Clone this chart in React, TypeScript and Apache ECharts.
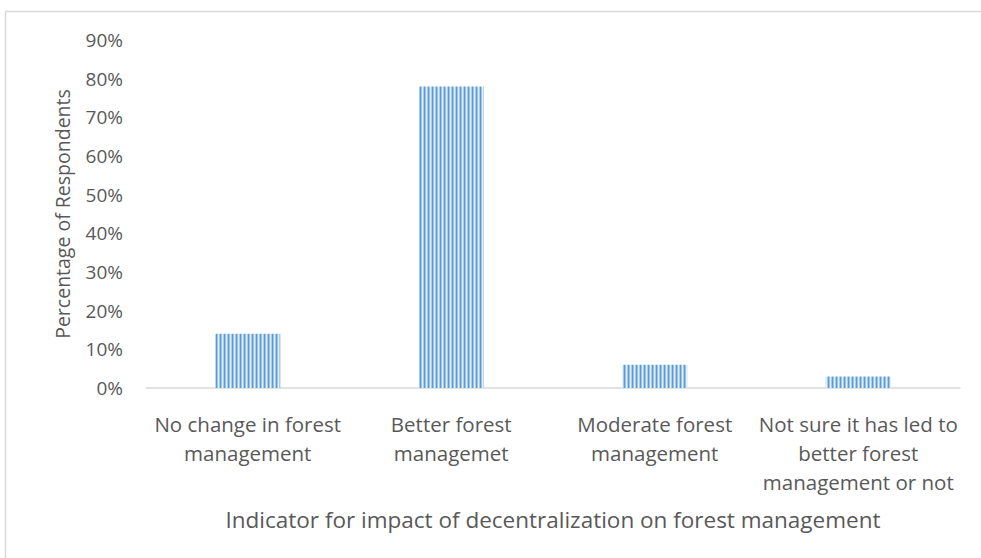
import React, { useEffect, useRef } from "react";
import * as echarts from "echarts";

const categories = [
  "No change in forest\nmanagement",
  "Better forest\nmanagemet",
  "Moderate forest\nmanagement",
  "Not sure it has led to\nbetter forest\nmanagement or not",
];
const values = [14, 78, 6, 3];
const yTicks = [0, 10, 20, 30, 40, 50, 60, 70, 80, 90];
const yTitle = "Percentage of Respondents";
const xTitle = "Indicator for impact of decentralization on forest management";

function makePattern(): HTMLCanvasElement {
  const c = document.createElement("canvas");
  c.width = 4;
  c.height = 4;
  const ctx = c.getContext("2d")!;
  const cols = ["#5B9BD5", "#9DC3E6", "#E3EEF9", "#A9CBEA"];
  cols.forEach((col, i) => {
    ctx.fillStyle = col;
    ctx.fillRect(i, 0, 1, 4);
  });
  return c;
}

export default function App() {
  const ref = useRef<HTMLDivElement>(null);
  useEffect(() => {
    if (!ref.current) return;
    const chart = echarts.init(ref.current, undefined, { renderer: "svg" });
    const font = "'Open Sans', Lato, sans-serif";
    chart.setOption({
      animation: false,
      backgroundColor: "#fff",
      textStyle: { fontFamily: font },
      graphic: [
        {
          type: "rect",
          shape: { x: 5.5, y: 11.5, width: 1000, height: 600 },
          style: { fill: "none", stroke: "#D9D9D9", lineWidth: 1.5 },
          silent: true,
        },
      ],
      grid: { left: 146, right: 21, top: 40, bottom: 170 },
      xAxis: {
        type: "category",
        data: categories,
        axisLine: { lineStyle: { color: "#D9D9D9", width: 1.5 } },
        axisTick: { show: false },
        axisLabel: {
          color: "#595959",
          fontSize: 20.5,
          lineHeight: 29,
          fontFamily: font,
          margin: 21,
          interval: 0,
        },
        name: xTitle,
        nameLocation: "middle",
        nameGap: 120,
        nameTextStyle: { color: "#595959", fontSize: 22.5, fontFamily: font },
      },
      yAxis: {
        type: "value",
        min: 0,
        max: 90,
        interval: 10,
        axisLine: { show: false },
        axisTick: { show: false },
        splitLine: { show: false },
        axisLabel: {
          color: "#595959",
          fontSize: 19,
          fontFamily: font,
          margin: 23,
          formatter: (v: number) => (yTicks.includes(v) ? v + "%" : ""),
        },
        name: yTitle,
        nameLocation: "middle",
        nameGap: 74,
        nameTextStyle: { color: "#595959", fontSize: 19.5, fontFamily: font },
      },
      series: [
        {
          type: "bar",
          data: values,
          barWidth: 65,
          itemStyle: {
            color: { image: makePattern(), repeat: "repeat" },
          },
        },
      ],
    });
    return () => chart.dispose();
  }, []);
  return <div ref={ref} style={{ width: 981, height: 558, position: "absolute", left: 0, top: 0 }} />;
}
